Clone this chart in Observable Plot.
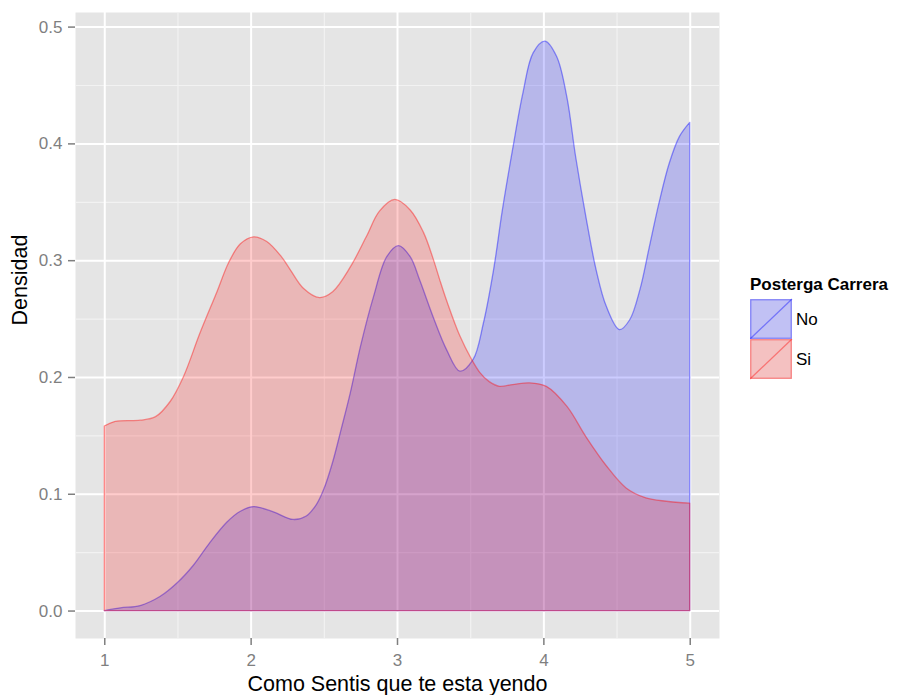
<!DOCTYPE html>
<html>
<head>
<meta charset="utf-8">
<script src="https://cdn.jsdelivr.net/npm/d3@7"></script>
<script src="https://cdn.jsdelivr.net/npm/@observablehq/plot@0.6"></script>
<style>
  html, body { margin: 0; padding: 0; background: white; }
  #wrap { position: relative; width: 898px; height: 695px; overflow: hidden; font-family: "Liberation Sans", Arial, sans-serif; }
  #legend { position: absolute; left: 750px; top: 274px; }
</style>
</head>
<body>
<div id="wrap"><div id="chart"></div><div id="legend"></div></div>
<script>
// Series: "Si" (Posterga Carrera = Si)
const siX = [1.00, 1.075, 1.245, 1.35, 1.45, 1.54, 1.655, 1.77, 1.85, 1.93, 2.02, 2.11, 2.21, 2.27, 2.36, 2.47, 2.56, 2.68, 2.79, 2.88, 2.985, 3.09, 3.18, 3.245, 3.29, 3.34, 3.43, 3.51, 3.565, 3.63, 3.70, 3.79, 3.905, 4.02, 4.16, 4.29, 4.43, 4.565, 4.70, 4.84, 5.00];
const siY = [0.158, 0.162, 0.163, 0.166, 0.179, 0.200, 0.238, 0.273, 0.298, 0.314, 0.320, 0.316, 0.303, 0.292, 0.276, 0.268, 0.273, 0.294, 0.320, 0.342, 0.352, 0.343, 0.324, 0.302, 0.284, 0.265, 0.235, 0.215, 0.204, 0.196, 0.192, 0.1935, 0.195, 0.192, 0.175, 0.149, 0.124, 0.105, 0.0965, 0.0936, 0.092];
// Series: "No"
const noX = [1.00, 1.11, 1.245, 1.38, 1.50, 1.61, 1.72, 1.84, 1.93, 2.02, 2.155, 2.29, 2.38, 2.45, 2.50, 2.56, 2.62, 2.68, 2.75, 2.84, 2.93, 3.01, 3.09, 3.155, 3.245, 3.34, 3.43, 3.52, 3.59, 3.66, 3.72, 3.79, 3.86, 3.93, 4.01, 4.09, 4.16, 4.22, 4.29, 4.36, 4.43, 4.52, 4.59, 4.66, 4.72, 4.79, 4.86, 4.93, 5.00];
const noY = [0.000, 0.0023, 0.0043, 0.012, 0.024, 0.039, 0.058, 0.076, 0.085, 0.089, 0.0845, 0.078, 0.081, 0.091, 0.104, 0.127, 0.156, 0.186, 0.226, 0.269, 0.303, 0.3125, 0.303, 0.283, 0.252, 0.223, 0.205, 0.215, 0.246, 0.292, 0.343, 0.395, 0.443, 0.4775, 0.4875, 0.4746, 0.440, 0.389, 0.3376, 0.292, 0.2605, 0.2406, 0.249, 0.275, 0.309, 0.349, 0.383, 0.406, 0.418];

const categories = ["No", "Si"];
const colors = ["blue", "red"];
const xTicks = [1, 2, 3, 4, 5];
const xMinor = [1.5, 2.5, 3.5, 4.5];
const yTicks = [0.0, 0.1, 0.2, 0.3, 0.4, 0.5];
const yMinor = [0.05, 0.15, 0.25, 0.35, 0.45];
const xTitle = "Como Sentis que te esta yendo";
const yTitle = "Densidad";
const legendTitle = "Posterga Carrera";

const noData = noX.map((x, i) => ({x, y: noY[i]}));
const siData = siX.map((x, i) => ({x, y: siY[i]}));

const chart = Plot.plot({
  width: 898,
  height: 695,
  marginLeft: 75,
  marginTop: 12,
  marginRight: 179,
  marginBottom: 57,
  style: {fontFamily: "'Liberation Sans', Arial, sans-serif", background: "white"},
  x: {domain: [0.8, 5.2]},
  y: {domain: [-0.0235, 0.5125]},
  marks: [
    Plot.frame({fill: "#E5E5E5"}),
    Plot.ruleX(xMinor, {stroke: "#F2F2F2", strokeWidth: 1.2}),
    Plot.ruleY(yMinor, {stroke: "#F2F2F2", strokeWidth: 1.2}),
    Plot.ruleX(xTicks, {stroke: "white", strokeWidth: 2}),
    Plot.ruleY(yTicks, {stroke: "white", strokeWidth: 2}),
    Plot.areaY(noData, {x: "x", y: "y", fill: colors[0], fillOpacity: 0.2, stroke: colors[0], strokeOpacity: 0.4, strokeWidth: 1.3, curve: "catmull-rom"}),
    Plot.areaY(siData, {x: "x", y: "y", fill: colors[1], fillOpacity: 0.2, stroke: colors[1], strokeOpacity: 0.4, strokeWidth: 1.3, curve: "catmull-rom"}),
    Plot.axisX(xTicks, {tickSize: 7, tickPadding: 8, fontSize: 17, color: "#7f7f7f", strokeWidth: 1.5, tickFormat: d3.format("d"), label: null}),
    Plot.axisY(yTicks, {tickSize: 7, tickPadding: 6, fontSize: 17, color: "#7f7f7f", strokeWidth: 1.5, tickFormat: d3.format(".1f"), label: null}),
    Plot.text([xTitle], {frameAnchor: "bottom", dy: 52, fontSize: 21.5, fill: "black"}),
    Plot.text([yTitle], {frameAnchor: "left", dx: -55, rotate: -90, fontSize: 21.5, fill: "black"})
  ]
});
document.getElementById("chart").appendChild(chart);

// Legend
const kw = 42, kh = 40;
const lg = d3.select("#legend").append("svg")
  .attr("width", 148).attr("height", 110)
  .style("font-family", "'Liberation Sans', Arial, sans-serif");
lg.append("text").attr("x", 0).attr("y", 16).attr("font-size", 17).attr("font-weight", "bold").text(legendTitle);
categories.forEach((c, i) => {
  const g = lg.append("g").attr("transform", `translate(0,${25 + i * kh})`);
  g.append("rect").attr("width", kw).attr("height", kh).attr("fill", "#F2F2F2");
  g.append("rect").attr("x", 0.7).attr("y", 0.7).attr("width", kw - 1.4).attr("height", kh - 1.4)
    .attr("fill", colors[i]).attr("fill-opacity", 0.2)
    .attr("stroke", colors[i]).attr("stroke-opacity", 0.4).attr("stroke-width", 1.3);
  g.append("line").attr("x1", 0).attr("y1", kh).attr("x2", kw).attr("y2", 0)
    .attr("stroke", colors[i]).attr("stroke-opacity", 0.4).attr("stroke-width", 1.3);
  g.append("text").attr("x", kw + 4).attr("y", kh / 2 + 6).attr("font-size", 17).text(c);
});
</script>
</body>
</html>
